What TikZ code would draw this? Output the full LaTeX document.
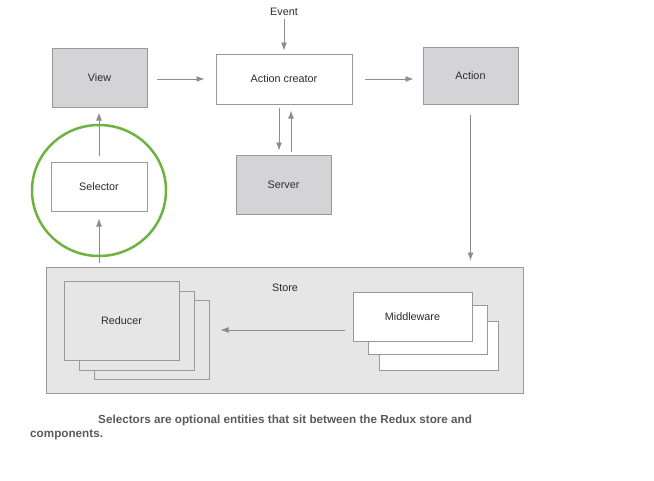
\documentclass[tikz,border=0pt]{standalone}
\usepackage{fontspec}
\setmainfont{Liberation Sans}
\usetikzlibrary{arrows.meta,positioning}
\definecolor{boxgray}{HTML}{D4D4D6}
\definecolor{storegray}{HTML}{E6E6E6}
\definecolor{linegray}{HTML}{999999}
\definecolor{arrowgray}{HTML}{8C8C8C}
\definecolor{ringgreen}{HTML}{6DB33F}
\definecolor{textdark}{HTML}{2B2B33}
\definecolor{captiongray}{HTML}{5A5A5A}
\begin{document}
\begin{tikzpicture}[x=1pt,y=-1pt,
        box/.style={draw=linegray,line width=1pt,text=textdark,
            font=\fontsize{10.8}{12}\selectfont,inner sep=0pt},
        graybox/.style={box,fill=boxgray,minimum width=95pt,minimum height=59pt},
        whitebox/.style={box,fill=white},
        label/.style={text=textdark,font=\fontsize{10.8}{12}\selectfont,inner sep=0pt},
        caption/.style={anchor=base west,inner sep=0pt,text=captiongray,
            font=\bfseries\fontsize{11.7}{13}\selectfont},
        arr/.style={draw=arrowgray,line width=0.9pt,-{Latex[length=8pt,width=6pt]}}]
    \useasboundingbox (0,0) rectangle (654,480);

    % top row
    \node[label] (event) at (284,12) {Event};
    \node[graybox] (view) at (99.5,77.5) {View};
    \node[whitebox,minimum width=136pt,minimum height=50pt] (creator) at (284,79) {Action creator};
    \node[graybox,minimum height=57pt] (action) at (470.5,75.5) {Action};
    \node[graybox] (server) at (283.5,184.5) {Server};
    \node[whitebox,minimum width=96pt,minimum height=49pt] (selector) at (99,186.5) {Selector};

    % store
    \node[box,fill=storegray,minimum width=477pt,minimum height=126pt] (store) at (284.5,330) {};
    \node[label] (storelabel) at (285,288) {Store};

    % reducer stack
    \foreach \i/\dx/\dy in {3/30/19,2/15/10}
        \node[box,fill=storegray,minimum width=115pt,minimum height=79pt] (red\i) at (121.5+\dx,320.5+\dy) {};
    \node[box,fill=storegray,minimum width=115pt,minimum height=79pt] (red) at (121.5,320.5) {Reducer};

    % middleware stack
    \foreach \i/\dx/\dy in {3/26/29,2/15/13}
        \node[whitebox,minimum width=119pt,minimum height=49pt] (mw\i) at (412.5+\dx,316.5+\dy) {};
    \node[whitebox,minimum width=119pt,minimum height=49pt] (mw) at (412.5,316.5) {Middleware};

    % arrows
    \draw[arr,shorten <=3pt,shorten >=3pt] (event) -- (creator);
    \draw[arr,shorten <=9pt,shorten >=11pt] (view.east |- creator.west) -- (creator.west);
    \draw[arr,shorten <=12pt,shorten >=9pt] (creator.east) -- (creator.east -| action.west);
    \draw[arr,shorten <=3pt,shorten >=4pt] ([xshift=-5pt]creator.south) -- ([xshift=-5pt]creator.south |- server.north);
    \draw[arr,shorten <=3pt,shorten >=6pt] ([xshift=7pt]creator.south |- server.north) -- ([xshift=7pt]creator.south);
    \draw[arr,shorten <=6pt,shorten >=5pt] (selector.north) -- (selector.north |- view.south);
    \draw[arr,shorten <=4pt,shorten >=7pt] (selector.south |- store.north) -- (selector.south);
    \draw[arr,shorten <=10pt,shorten >=6pt] (action.south) -- (action.south |- store.north);
    \draw[arr,shorten <=8pt,shorten >=11pt] ([yshift=-13.5pt]mw.west) -- ([yshift=-13.5pt]mw.west -| red3.east);

    % ring round the selector
    \draw[ringgreen,line width=2.5pt] ([yshift=-4pt]selector.center) ellipse [x radius=67,y radius=65.5];

    % caption
    \node[caption] (cap1) at (98,423) {Selectors are optional entities that sit between the Redux store and};
    \node[caption] (cap2) at (30,437) {components.};
\end{tikzpicture}
\end{document}
